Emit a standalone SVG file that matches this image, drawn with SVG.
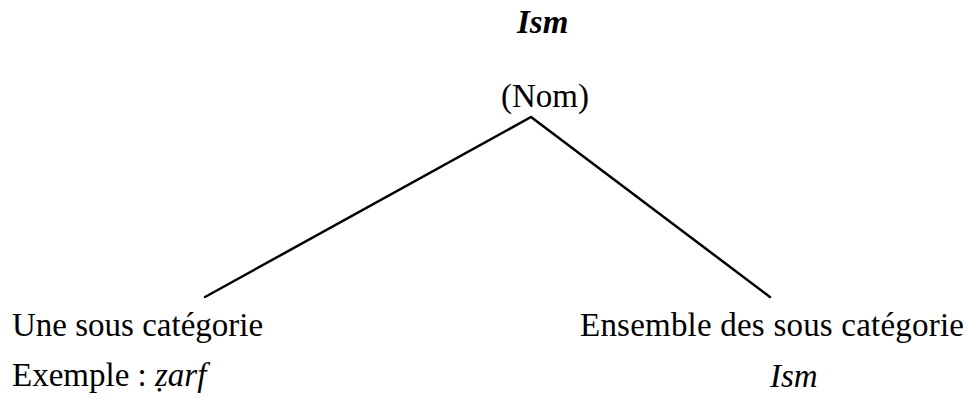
<svg xmlns="http://www.w3.org/2000/svg" width="968" height="403" viewBox="0 0 968 403">
<style>
text{font-family:"Liberation Serif","Times New Roman",serif;font-size:33px;fill:#000}
.bi{font-weight:bold;font-style:italic}
.i{font-style:italic}
line{stroke:#000;stroke-width:2.5;stroke-linecap:round}
</style>
<rect width="968" height="403" fill="#fff"/>
<g id="root">
<text class="bi" x="517" y="33">Ism</text>
<text x="501" y="107">(Nom)</text>
</g>
<g id="connectors">
<line x1="531" y1="117" x2="205" y2="297"/>
<line x1="531" y1="117" x2="770" y2="297"/>
</g>
<g id="left">
<text x="12" y="336">Une sous catégorie</text>
<text x="12" y="386">Exemple : <tspan class="i">ẓarf</tspan></text>
</g>
<g id="right">
<text x="580" y="336" textLength="384">Ensemble des sous catégorie</text>
<text class="i" x="770" y="387">Ism</text>
</g>
</svg>
